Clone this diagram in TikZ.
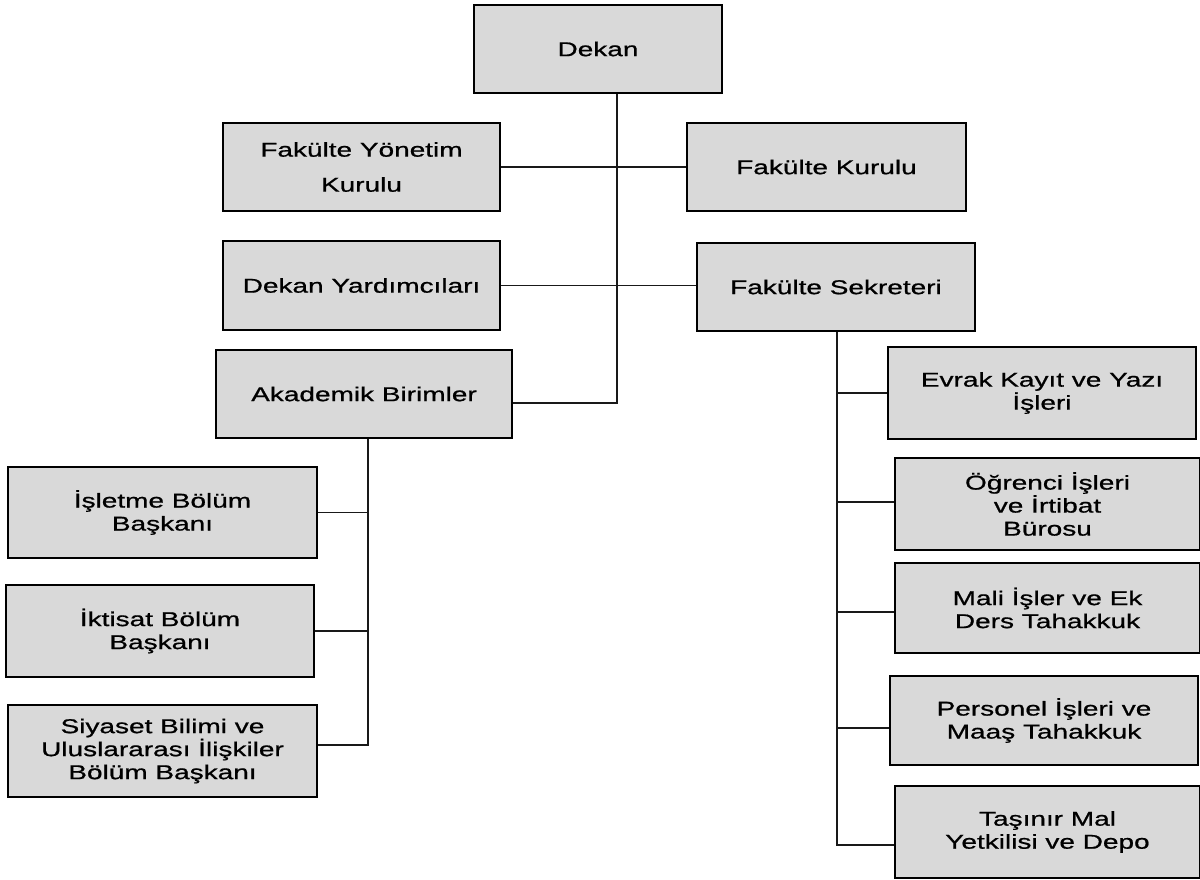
\documentclass[tikz,border=0pt]{standalone}
\usepackage{fontspec}
\setmainfont[FakeStretch=1.4,FakeBold=0.8]{Liberation Sans}
\usepackage{tikz}
\usetikzlibrary{shapes,arrows}

\begin{document}
\begin{tikzpicture}[x=1pt,y=-1pt,
		kutu/.style={draw=black, line width=1.6pt, fill=black!15, align=center, inner sep=0pt, font=\fontsize{20}{23}\selectfont},
		hat/.style={line width=1.5pt, draw=black!90}]
	\useasboundingbox (0,0) rectangle (1200,879);
	% ust kisim
	\node[kutu, minimum width=248pt, minimum height=88pt] (dekan) at (598,49) {Dekan};
	\node[kutu, minimum width=277pt, minimum height=88pt] (fyk) at (361.5,167) {Fakülte Yönetim\\[12pt]Kurulu};
	\node[kutu, minimum width=279pt, minimum height=88pt] (fk) at (826.5,167) {Fakülte Kurulu};
	\node[kutu, minimum width=277pt, minimum height=89pt] (dy) at (361.5,285.5) {Dekan Yardımcıları};
	\node[kutu, minimum width=278pt, minimum height=88pt] (fs) at (836,287) {Fakülte Sekreteri};
	\node[kutu, minimum width=296pt, minimum height=88pt] (ab) at (364,394) {Akademik Birimler};
	% bolumler
	\node[kutu, minimum width=309pt, minimum height=91pt] (isl) at (162.5,512.5) {İşletme Bölüm\\Başkanı};
	\node[kutu, minimum width=308pt, minimum height=92pt] (ikt) at (160,631) {İktisat Bölüm\\Başkanı};
	\node[kutu, minimum width=309pt, minimum height=92pt] (siy) at (162.5,751) {Siyaset Bilimi ve\\Uluslararası İlişkiler\\Bölüm Başkanı};
	% sekreterlik
	\node[kutu, minimum width=308pt, minimum height=92pt] (evr) at (1042,393) {Evrak Kayıt ve Yazı\\İşleri};
	\node[kutu, minimum width=305pt, minimum height=92pt] (ogr) at (1047.5,504) {Öğrenci İşleri\\ve İrtibat\\Bürosu};
	\node[kutu, minimum width=305pt, minimum height=90pt] (mal) at (1047.5,608) {Mali İşler ve Ek\\Ders Tahakkuk};
	\node[kutu, minimum width=308pt, minimum height=89pt] (per) at (1044,720.5) {Personel İşleri ve\\Maaş Tahakkuk};
	\node[kutu, minimum width=305pt, minimum height=92pt] (tas) at (1047.5,832) {Taşınır Mal\\Yetkilisi ve Depo};

	\coordinate (d1) at (617,403);
	\draw[hat] (dekan.south -| d1) -- (d1) -- (ab.east |- d1);
	\draw[hat] (fyk) -- (fk);
	\draw[hat] (dy.east) -- (dy.east -| fs.west);

	\coordinate (a1) at (368,745);
	\draw[hat] (ab.south -| a1) -- (a1) -- ([yshift=6pt]siy.east);
	\draw[hat] (isl.east) -- (isl.east -| a1);
	\draw[hat] (ikt.east) -- (ikt.east -| a1);

	\coordinate (s1) at (837,845);
	\draw[hat] (fs.south -| s1) -- (s1) -- ([yshift=-13pt]tas.west);
	\foreach \k/\d in {evr/0,ogr/2,mal/-4,per/-7.5}{
		\path ([yshift=\d pt]\k.west) coordinate (u);
		\draw[hat] (u -| s1) -- (u);
	}
\end{tikzpicture}
\end{document}
